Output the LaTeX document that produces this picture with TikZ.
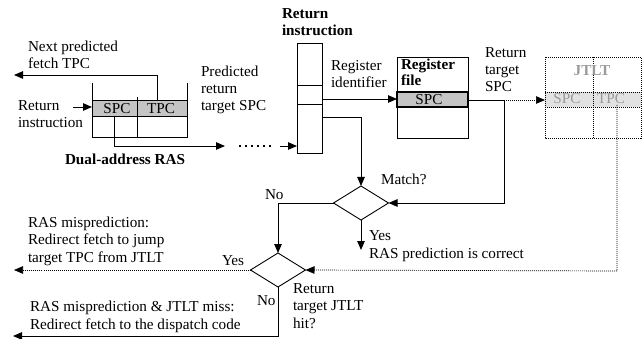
\documentclass[tikz,border=0pt]{standalone}
\usepackage{fontspec}
\setmainfont{Liberation Serif}
\usetikzlibrary{shapes.geometric,arrows.meta}
\definecolor{rowgray}{HTML}{C4C4C4}
\definecolor{jtfill}{HTML}{E2E2E2}
\definecolor{jttext}{HTML}{9A9A9A}
\tikzset{
  every node/.style={inner sep=0pt, outer sep=0pt},
  % multi-line labels are placed by the baseline of their last line
  lbl/.style={font=\fontsize{15.2}{17.3}\selectfont, align=left, anchor=base west},
  blbl/.style={lbl, font=\fontsize{15.2}{17.3}\selectfont\bfseries},
  cell/.style={font=\fontsize{15.2}{17.3}\selectfont, anchor=base},
  wire/.style={draw, line width=0.9pt},
  arr/.style={wire, -{Triangle[length=9pt,width=7.5pt]}},
  dwire/.style={draw, line width=0.7pt, dash pattern=on 1pt off 1pt},
  darr/.style={dwire, -{Triangle[length=9pt,width=7.5pt]}},
  bigdots/.style={draw, line width=2pt, dash pattern=on 2pt off 4pt},
  decision/.style={draw, diamond, line width=0.9pt, minimum width=55pt, minimum height=34pt, aspect=1.6},
}
\begin{document}
\begin{tikzpicture}[x=1pt, y=-1pt]
\useasboundingbox (0,0) rectangle (642,339);

% ---- dual-address return address stack
\fill[rowgray] (92,100) rectangle (187,116);
\draw[wire] (92,83) -- (92,137) -- (187,137) -- (187,83);
\draw[wire] (92,100) -- (187,100);
\draw[wire] (92,116) -- (187,116);
\draw[wire] (137,97) -- (137,137);
\node[cell] (rasspc) at (117,114) {SPC};
\node[cell] (rastpc) at (161,114) {TPC};
\coordinate (rastop) at (157,100);
\coordinate (rasbot) at (114,116);
\node[blbl] (raslbl) at (65,165) {Dual-address RAS};

\node[lbl] (nextlbl) at (28,68.5) {Next predicted\\fetch TPC};
\coordinate (nextend) at (14,75);
\draw[arr] (rastop) -- (157,75) -- (nextend);

\node[lbl] (retin) at (18,128) {Return\\instruction};
\coordinate (retinA) at (73,107);
\coordinate (retinB) at (92,107);
\draw[arr] (retinA) -- (retinB);

\node[lbl] (predlbl) at (201,111) {Predicted\\return\\target SPC};

% ---- return instruction word
\node[draw, line width=0.9pt, minimum width=25pt, minimum height=110pt] (rinst) at (309.5,98) {};
\draw[wire] (297,85) -- (322,85);
\draw[wire] (297,104) -- (322,104);
\node[blbl] (rinstlbl) at (282,36) {Return\\instruction};

% predicted SPC path into the instruction
\coordinate (pa) at (225,146);
\coordinate (pb) at (239,146);
\coordinate (pc) at (274,146);
\coordinate (pd) at (280,146);
\draw[arr] (rasbot) -- (114,146) -- (pa);
\draw[bigdots] (pb) -- (pc);
\draw[arr] (pd) -- (297,146);

% ---- register file
\node[draw, line width=0.9pt, minimum width=71pt, minimum height=81pt] (regfile) at (432.5,97.5) {};
\filldraw[fill=rowgray, line width=1.3pt] (397,92) rectangle (468,107);
\node[blbl, font=\fontsize{15.2}{16}\selectfont\bfseries] (reglbl) at (401,86) {Register\\file};
\node[cell] (regspc) at (429,105) {SPC};

\node[lbl] (regid) at (331,88) {Register\\identifier};
\draw[arr] (322,99) -- (397,99);

% ---- jump target lookup table
\fill[jtfill] (545,92) rectangle (641,107);
\draw[dwire] (545,57) rectangle (641,138);
\draw[dwire] (545,92) -- (641,92);
\draw[dwire] (545,107) -- (641,107);
\draw[dwire] (593,57) -- (593,138);
\node[cell, font=\fontsize{15.2}{17.3}\selectfont\bfseries, text=jttext] (jtlt) at (592,76) {JTLT};
\node[cell, text=jttext] (jtspc) at (567,104) {SPC};
\node[cell, text=jttext] (jttpc) at (611,104) {TPC};

\node[lbl] (rtspc) at (485,92) {Return\\target\\SPC};
\coordinate (split) at (504,100);
\draw[wire] (468,100) -- (split);
\draw[darr] (split) -- (545,100);

% ---- decisions
\node[decision] (match) at (361,203) {};
\node[decision] (hit) at (278,270) {};

\draw[arr] (322,117) -- (match.north |- 0,117) -- (match.north);
\draw[arr] (split) -- (504,203) -- (match.east);
\node[lbl] (matchlbl) at (381,185) {Match?};

\coordinate (okend) at (361,250);
\draw[arr] (match.south) -- (okend);
\node[lbl] (yes1) at (369,240) {Yes};
\node[lbl] (okl) at (369,258) {RAS prediction is correct};

\draw[arr] (match.west) -- (hit.north |- match.west) -- (hit.north);
\node[lbl] (no1) at (265,200) {No};

\draw[darr] (617,105) -- (617,271) -- (hit.east);
\node[lbl] (hitlbl) at (293,328) {Return\\target JTLT\\hit?};

\coordinate (yesend) at (14,270);
\draw[darr] (hit.west) -- (yesend);
\node[lbl] (yes2) at (222,265) {Yes};
\node[lbl] (misp) at (28,262) {RAS misprediction:\\Redirect fetch to jump\\target TPC from JTLT};

\coordinate (noend) at (13,336);
\draw[arr] (hit.south) -- (278,336) -- (noend);
\node[lbl] (no2) at (257,305) {No};
\node[lbl] (miss) at (30,329) {RAS misprediction \& JTLT miss:\\Redirect fetch to the dispatch code};
\end{tikzpicture}
\end{document}
